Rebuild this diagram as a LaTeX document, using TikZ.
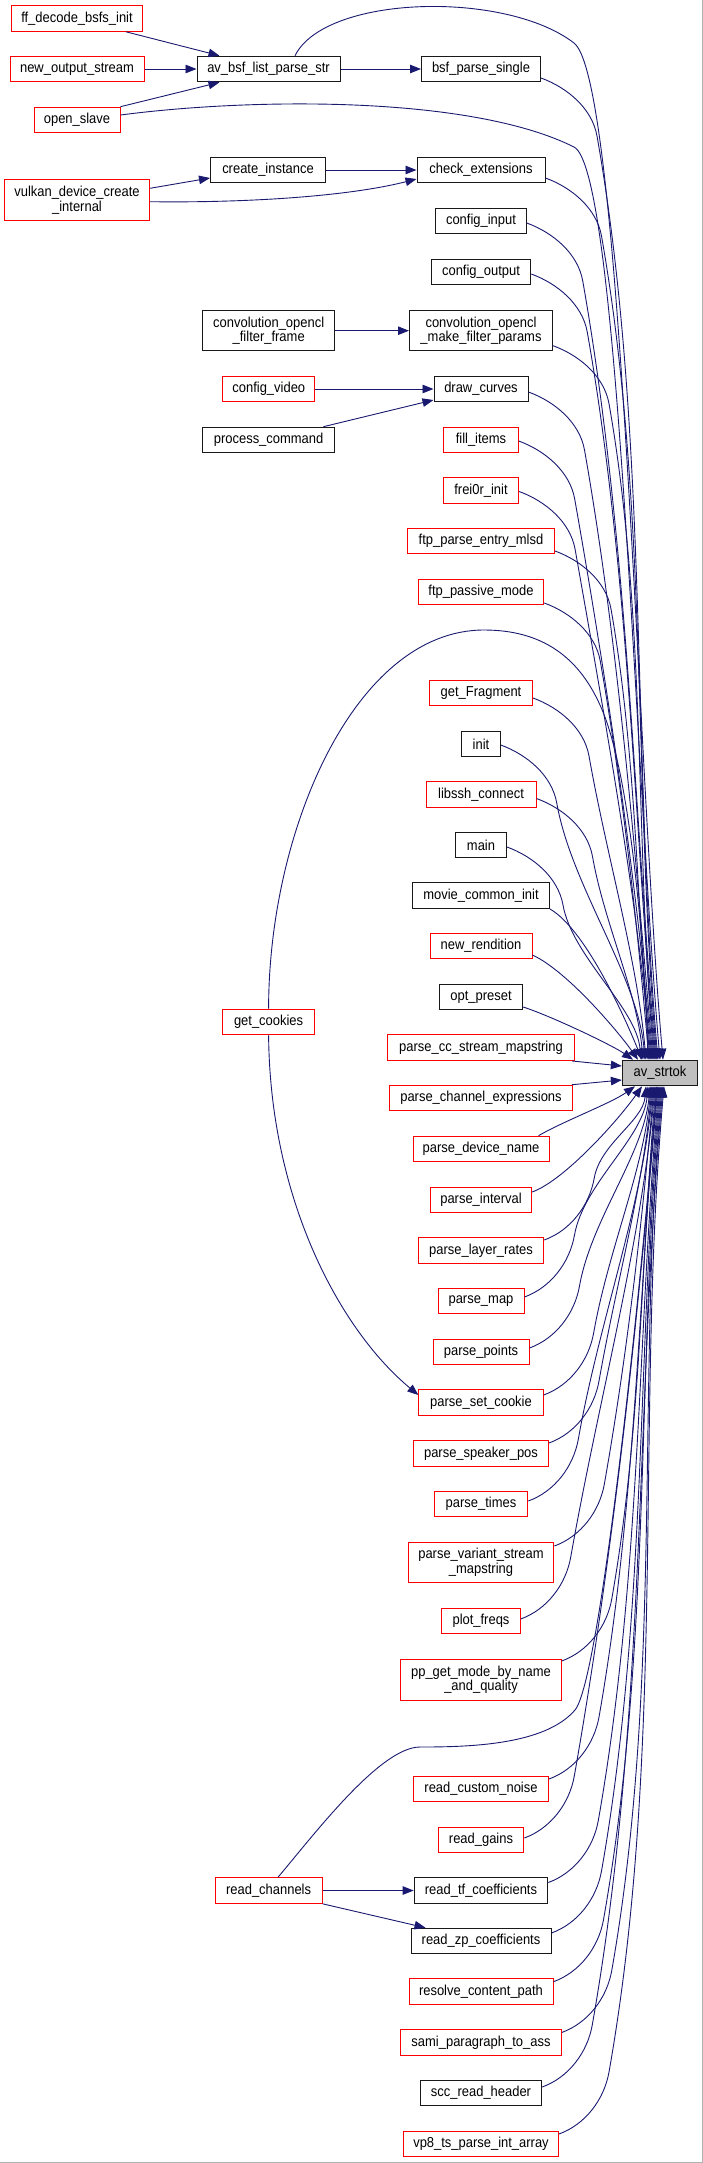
\documentclass[tikz,border=0pt]{standalone}
\usepackage{fontspec}
\setmainfont{Liberation Sans}[FakeStretch=0.9]
\usetikzlibrary{arrows.meta}
\definecolor{edgeblue}{RGB}{25,25,112}
\definecolor{nodegray}{RGB}{191,191,191}
\newcommand{\nodefont}{\fontsize{14.4pt}{14.5pt}\selectfont}
\newcommand{\topE}[4]{\draw[cline] ([yshift=#2]#1.east) to[out=-20,in=100,distance=28pt] ++(56,-58) to[out=-80,in=95,distance=#4] ([xshift=#3]strtok.north);}
\newcommand{\botE}[4]{\draw[cline] ([yshift=#2]#1.east) to[out=20,in=-100,distance=28pt] ++(50,62) to[out=80,in=-95,distance=#4] ([xshift=#3]strtok.south);}
\begin{document}
\begin{tikzpicture}[x=1pt,y=1pt,
  base/.style={draw, line width=1pt, inner sep=0pt, minimum height=25.6pt, font=\nodefont, align=center, fill=white, text=black},
  rn/.style={base, draw=red},
  bn/.style={base, draw=black!90},
  two/.style={minimum height=40.5pt},
  cline/.style={draw=edgeblue, line width=0.9pt, -{Triangle[length=11pt,width=8.5pt]}}]
\useasboundingbox (0,0) rectangle (703,-2163);
\draw[line width=1pt, black!30] (702.5,0) -- (702.5,-2162.5) -- (0,-2162.5);

% left column
\node[rn, minimum width=131pt] (ffdec) at (77,-18.5) {ff\_decode\_bsfs\_init};
\node[rn, minimum width=134pt] (newout) at (77,-69) {new\_output\_stream};
\node[rn, minimum width=86pt] (openslave) at (77,-120) {open\_slave};
\node[rn, two, minimum width=145pt] (vulkan) at (77,-200) {vulkan\_device\_create\\\_internal};

% middle column
\node[bn, minimum width=143pt] (avbsf) at (268.5,-69) {av\_bsf\_list\_parse\_str};
\node[bn, minimum width=115pt] (createinst) at (268,-170) {create\_instance};
\node[bn, two, minimum width=131.5pt] (convframe) at (268.7,-330.7) {convolution\_opencl\\\_filter\_frame};
\node[rn, minimum width=92pt] (cfgvideo) at (268.8,-389) {config\_video};
\node[bn, minimum width=132pt] (proccmd) at (268.6,-440) {process\_command};
\node[rn, minimum width=92pt] (getcookies) at (268.6,-1022) {get\_cookies};
\node[rn, minimum width=107pt] (readch) at (268.6,-1890.5) {read\_channels};

% right column
\node[bn, minimum width=119pt] (bsfps) at (481,-69) {bsf\_parse\_single};
\node[bn, minimum width=128pt] (checkext) at (481,-170) {check\_extensions};
\node[bn, minimum width=90.5pt] (cfgin) at (481,-221) {config\_input};
\node[bn, minimum width=99.5pt] (cfgout) at (481,-272) {config\_output};
\node[bn, two, minimum width=143pt] (convmake) at (481,-330.7) {convolution\_opencl\\\_make\_filter\_params};
\node[bn, minimum width=94pt] (drawcurves) at (481,-389) {draw\_curves};
\node[rn, minimum width=74.4pt] (fillitems) at (481,-440) {fill\_items};
\node[rn, minimum width=75.3pt] (frei0r) at (481,-490.5) {frei0r\_init};
\node[rn, minimum width=147pt] (ftpmlsd) at (481,-541) {ftp\_parse\_entry\_mlsd};
\node[rn, minimum width=125.5pt] (ftppm) at (481,-592) {ftp\_passive\_mode};
\node[rn, minimum width=103pt] (getfrag) at (481,-693) {get\_Fragment};
\node[bn, minimum width=38.5pt] (init) at (481,-744) {init};
\node[rn, minimum width=110pt] (libssh) at (481,-794.5) {libssh\_connect};
\node[bn, minimum width=51pt] (main) at (481,-845) {main};
\node[bn, minimum width=137pt] (movie) at (481,-895.7) {movie\_common\_init};
\node[rn, minimum width=102pt] (newrend) at (481,-946) {new\_rendition};
\node[bn, minimum width=83.4pt] (optpreset) at (481,-997) {opt\_preset};
\node[rn, minimum width=187.4pt] (parsecc) at (481,-1047.7) {parse\_cc\_stream\_mapstring};
\node[rn, minimum width=183pt] (parsechan) at (481,-1098) {parse\_channel\_expressions};
\node[rn, minimum width=136pt] (parsedev) at (481,-1149) {parse\_device\_name};
\node[rn, minimum width=101.3pt] (parseint) at (481,-1200) {parse\_interval};
\node[rn, minimum width=125.5pt] (parselayer) at (481,-1250.5) {parse\_layer\_rates};
\node[rn, minimum width=86pt] (parsemap) at (481,-1301) {parse\_map};
\node[rn, minimum width=96pt] (parsepoints) at (481,-1352) {parse\_points};
\node[rn, minimum width=124.3pt] (parsesetcookie) at (481,-1402.5) {parse\_set\_cookie};
\node[rn, minimum width=135pt] (parsespeaker) at (481,-1453.5) {parse\_speaker\_pos};
\node[rn, minimum width=93.7pt] (parsetimes) at (481,-1504) {parse\_times};
\node[rn, two, minimum width=145.7pt] (parsevariant) at (481,-1562.5) {parse\_variant\_stream\\\_mapstring};
\node[rn, minimum width=78.5pt] (plotfreqs) at (481,-1621) {plot\_freqs};
\node[rn, two, minimum width=160.5pt] (ppget) at (481,-1680) {pp\_get\_mode\_by\_name\\\_and\_quality};
\node[rn, minimum width=135pt] (readnoise) at (481,-1789) {read\_custom\_noise};
\node[rn, minimum width=85.6pt] (readgains) at (481,-1840) {read\_gains};
\node[bn, minimum width=133.6pt] (readtf) at (481,-1890.5) {read\_tf\_coefficients};
\node[bn, minimum width=140pt] (readzp) at (481,-1941) {read\_zp\_coefficients};
\node[rn, minimum width=144pt] (resolve) at (481,-1991.7) {resolve\_content\_path};
\node[rn, minimum width=160.5pt] (sami) at (481,-2042.5) {sami\_paragraph\_to\_ass};
\node[bn, minimum width=121.5pt] (scc) at (481,-2093) {scc\_read\_header};
\node[rn, minimum width=155pt] (vp8) at (481,-2144) {vp8\_ts\_parse\_int\_array};

% target
\node[bn, fill=nodegray, minimum width=75.3pt] (strtok) at (660,-1073) {av\_strtok};

% short edges
\draw[cline] ([xshift=-17pt]ffdec.south east) -- ([xshift=23pt]avbsf.north west);
\draw[cline] (newout) -- (avbsf);
\draw[cline] (openslave.north east) -- ([xshift=23pt]avbsf.south west);
\draw[cline] (avbsf) -- (bsfps);
\draw[cline] ([yshift=11.7pt]vulkan.east) -- ([yshift=-8pt]createinst.west);
\draw[cline] ([yshift=-1.7pt]vulkan.east) .. controls (250,-203) and (350,-196) .. ([yshift=-9pt]checkext.west);
\draw[cline] (createinst) -- (checkext);
\draw[cline] (convframe) -- (convmake);
\draw[cline] (cfgvideo) -- (drawcurves);
\draw[cline] ([xshift=-11.7pt]proccmd.north east) -- ([yshift=-11pt]drawcurves.west);
\draw[cline] (getcookies.south) .. controls (270,-1200) and (340,-1330) .. ([yshift=7.5pt]parsesetcookie.west);
\draw[cline] (readch) -- (readtf);
\draw[cline] (readch.south east) -- ([xshift=15pt]readzp.north west);

% long edges into av_strtok from above
\draw[cline] ([xshift=26.5pt]avbsf.north) .. controls (325,5) and (505,10) .. (574,-43) .. controls (621.6,-79.5) and (637,-761.4) .. ([xshift=3pt]strtok.north);
\draw[cline] ([yshift=5pt]openslave.east) .. controls (250,-98) and (470,-95) .. (574,-147) .. controls (618.7,-169.4) and (635,-771) .. (strtok.north);
\draw[cline] (getcookies.north) .. controls (268.6,-830) and (355,-630) .. (484,-630) .. controls (540,-630) and (580,-655) .. (603,-712) .. controls (630.6,-780) and (645,-950) .. ([xshift=-12pt]strtok.north);
\topE{bsfps}{-9pt}{-2pt}{300pt}
\topE{checkext}{-8pt}{-3pt}{270pt}
\topE{cfgin}{-2pt}{-4pt}{255pt}
\topE{cfgout}{-2pt}{-5pt}{240pt}
\topE{convmake}{-15pt}{-6pt}{215pt}
\topE{drawcurves}{-3pt}{-7pt}{200pt}
\topE{fillitems}{-1pt}{-8pt}{185pt}
\topE{frei0r}{-1pt}{-9pt}{168pt}
\topE{ftpmlsd}{-10pt}{-10pt}{148pt}
\topE{ftppm}{-11pt}{-11pt}{132pt}
\topE{getfrag}{-5pt}{-14pt}{100pt}
\topE{init}{-1pt}{-15pt}{85pt}
\topE{libssh}{-4pt}{-17pt}{68pt}
\topE{main}{-2pt}{-19pt}{52pt}
\draw[cline] (movie.south east) to[out=-30,in=112,out distance=40pt,in distance=50pt] ([xshift=-18pt]strtok.north);
\draw[cline] ([yshift=-9pt]newrend.east) to[out=-25,in=125,out distance=40pt,in distance=30pt] ([xshift=-22pt]strtok.north);
\draw[cline] ([yshift=-10pt]optpreset.east) to[out=-18,in=145,out distance=30pt,in distance=25pt] ([xshift=-27pt]strtok.north);

% side edges
\draw[cline] ([xshift=-3pt]parsecc.south east) -- ([yshift=7pt]strtok.west);
\draw[cline] ([xshift=-1pt]parsechan.north east) -- ([yshift=-7pt]strtok.west);

% from below
\draw[cline] ([xshift=-11pt]parsedev.north east) to[out=30,in=-145,distance=30pt] ([xshift=-25pt]strtok.south);
\draw[cline] ([yshift=8pt]parseint.east) to[out=20,in=-125,out distance=35pt,in distance=40pt] ([xshift=-18pt]strtok.south);
\botE{parselayer}{10.5pt}{-14pt}{35pt}
\botE{parsemap}{4pt}{-12pt}{52pt}
\botE{parsepoints}{4pt}{-10pt}{68pt}
\botE{parsesetcookie}{7.5pt}{-9pt}{85pt}
\botE{parsespeaker}{10.5pt}{-8pt}{100pt}
\botE{parsetimes}{3pt}{-7pt}{120pt}
\botE{parsevariant}{16.5pt}{-6pt}{135pt}
\botE{plotfreqs}{2pt}{-5pt}{158pt}
\botE{ppget}{19pt}{-4pt}{172pt}
\botE{readnoise}{10pt}{-3pt}{210pt}
\botE{readgains}{2pt}{-2pt}{230pt}
\botE{readtf}{8pt}{-1pt}{246pt}
\botE{readzp}{8pt}{0pt}{262pt}
\botE{resolve}{10pt}{1pt}{280pt}
\botE{sami}{10pt}{2pt}{295pt}
\botE{scc}{6pt}{3pt}{315pt}
\botE{vp8}{10pt}{4pt}{330pt}
\draw[cline] ([xshift=9.4pt]readch.north) .. controls (313,-1836) and (380,-1747) .. (420,-1747) .. controls (470,-1747) and (545,-1745) .. (575,-1710) .. controls (600,-1680) and (640,-1300) .. ([xshift=-3pt]strtok.south);
\end{tikzpicture}
\end{document}
